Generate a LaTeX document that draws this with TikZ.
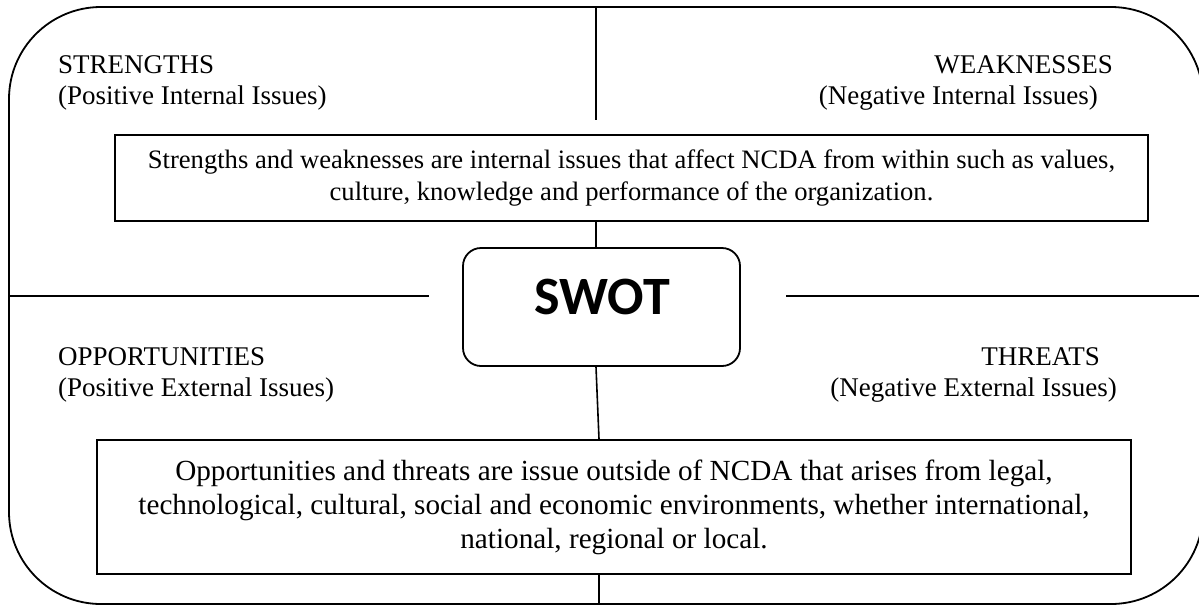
\documentclass[tikz,border=0pt]{standalone}
\usepackage{fontspec}
\setmainfont{Liberation Serif}
\newfontfamily\swotfont{Carlito}
\begin{document}
\begin{tikzpicture}[x=1pt,y=-1pt,
  rule/.style={line width=1.6pt},
  textbox/.style={draw, line width=1.8pt, inner sep=0pt, align=flush center,
    font=\fontsize{26.6}{32}\selectfont},
  heading/.style={inner sep=0pt, font=\fontsize{27}{32}\selectfont},
]
\useasboundingbox (0,0) rectangle (1199,606);

% outer frame
\node[draw, line width=1.8pt, rounded corners=92pt, inner sep=0pt,
      minimum width=1194pt, minimum height=597pt] (frame) at (606,305.5) {};

% quadrant headings
\node[heading, anchor=base west] (s)  at (58,73)   {STRENGTHS};
\node[heading, anchor=base west] (sp) at (58,104)  {(Positive Internal Issues)};
\node[heading, anchor=base east] (w)  at (1113,73) {WEAKNESSES};
\node[heading, anchor=base east] (wp) at (1098,104){(Negative Internal Issues)};
\node[heading, anchor=base west] (o)  at (58,365)  {OPPORTUNITIES};
\node[heading, anchor=base west] (op) at (58,396)  {(Positive External Issues)};
\node[heading, anchor=base east] (t)  at (1100,365){THREATS};
\node[heading, anchor=base east] (tp) at (1117,396){(Negative External Issues)};

% explanation boxes
\node[textbox, minimum width=1033pt, minimum height=86pt, text width=1020pt]
  (inner) at (631.5,178)
  {Strengths and weaknesses are internal issues that affect NCDA from within such as values,\\
   culture, knowledge and performance of the organization.};
\node[textbox, minimum width=1034pt, minimum height=134pt, text width=1020pt,
      font=\fontsize{29.2}{34}\selectfont]
  (outer) at (614,507)
  {Opportunities and threats are issue outside of NCDA that arises from legal,\\
   technological, cultural, social and economic environments, whether international,\\
   national, regional or local.};

% centre box
\node[draw, line width=1.8pt, rounded corners=18pt, inner sep=0pt,
      minimum width=277pt, minimum height=118pt] (swot) at (601.5,307) {};
\node[inner sep=0pt, font=\swotfont\bfseries\fontsize{54}{60}\selectfont]
  (swottext) at (602,297) {SWOT};

% dividing lines
\coordinate (vtop) at (596,120);
\coordinate (vb) at (599,0);
\coordinate (hl) at (429,296);
\coordinate (hr) at (786,296);
\draw[rule] (frame.north -| vtop) -- (vtop);
\draw[rule] (inner.south -| vtop) -- (swot.north -| vtop);
\draw[rule] (frame.west |- hl) -- (hl);
\draw[rule] (hr) -- (frame.east |- hr);
\draw[rule] (swot.south -| vtop) -- (outer.north -| vb);
\draw[rule] (outer.south -| vb) -- (frame.south -| vb);
\end{tikzpicture}
\end{document}
